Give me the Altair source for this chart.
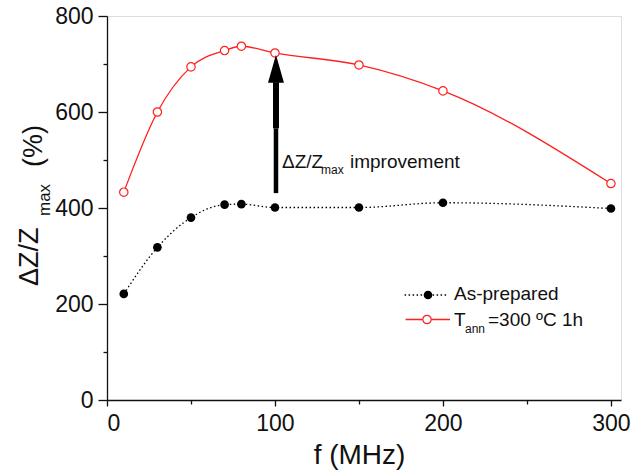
import altair as alt
import pandas as pd

# Frequency sweep (MHz) and maximum GMI ratio (%) for both samples
freq = [10, 30, 50, 70, 80, 100, 150, 200, 300]
as_prepared = [221, 318, 380, 407, 408, 401, 401, 411, 399]
annealed = [433, 600, 694, 728, 737, 723, 698, 644, 451]

x_major = [0, 100, 200, 300]
x_minor = [50, 150, 250]
y_major = [0, 200, 400, 600, 800]
y_minor = [100, 300, 500, 700]

# Improvement arrow at f = 100 MHz
arrow_x = [100.6]
arrow_base = [431]
arrow_neck = [566]
arrow_head_base = [662]
arrow_head_mid = [690]

FONT = "Liberation Sans"
RED = "#ff1f1f"

df_a = pd.DataFrame({"f": freq, "v": as_prepared})
df_b = pd.DataFrame({"f": freq, "v": annealed})

xs = alt.Scale(domain=[0, 306], nice=False, zero=False)
ys = alt.Scale(domain=[0, 800], nice=False, zero=False)

major_x_axis = alt.Axis(values=x_major, labelFontSize=23, labelFont=FONT, labelColor="#111",
                        tickSize=6, tickColor="#111", tickWidth=1.3, domainColor="#111",
                        domainWidth=1.3, labelPadding=6, grid=False, title="f (MHz)",
                        titleFont=FONT, titleFontSize=28, titleFontWeight="normal",
                        titleColor="#111", titlePadding=6, titleX=252, orient="bottom")
major_y_axis = alt.Axis(values=y_major, labelFontSize=23, labelFont=FONT, labelColor="#111",
                        tickSize=9, tickColor="#111", tickWidth=1.3, domainColor="#111",
                        domainWidth=1.3, labelPadding=5, grid=False, title="",
                        orient="left")
minor_x_axis = alt.Axis(values=x_minor, labels=False, domain=False, tickSize=4,
                        tickColor="#111", tickWidth=1.3, grid=False, title="", orient="bottom")
minor_y_axis = alt.Axis(values=y_minor, labels=False, domain=False, tickSize=4,
                        tickColor="#111", tickWidth=1.3, grid=False, title="", orient="left")

line_a = alt.Chart(df_a).mark_line(color="black", strokeWidth=1.3, strokeDash=[1.5, 2.5],
                                   interpolate="monotone").encode(
    x=alt.X("f:Q", scale=xs, axis=major_x_axis),
    y=alt.Y("v:Q", scale=ys, axis=major_y_axis),
)
pts_a = alt.Chart(df_a).mark_point(shape="circle", filled=True, color="black", size=75,
                                   opacity=1).encode(
    x=alt.X("f:Q", scale=xs, axis=None),
    y=alt.Y("v:Q", scale=ys, axis=None),
)
minor = alt.Chart(df_a).mark_point(opacity=0).encode(
    x=alt.X("f:Q", scale=xs, axis=minor_x_axis),
    y=alt.Y("v:Q", scale=ys, axis=minor_y_axis),
)
line_b = alt.Chart(df_b).mark_line(color=RED, strokeWidth=1.3, interpolate="monotone").encode(
    x=alt.X("f:Q", scale=xs, axis=None),
    y=alt.Y("v:Q", scale=ys, axis=None),
)
pts_b = alt.Chart(df_b).mark_point(shape="circle", filled=True, fill="white", stroke=RED,
                                   strokeWidth=1.2, size=70, opacity=1).encode(
    x=alt.X("f:Q", scale=xs, axis=None),
    y=alt.Y("v:Q", scale=ys, axis=None),
)

arrow_df = pd.DataFrame({"x": arrow_x, "y0": arrow_base, "y1": arrow_neck,
                         "y2": arrow_head_base, "ym": arrow_head_mid})
shaft = alt.Chart(arrow_df).mark_rule(color="black", strokeWidth=4.5).encode(
    x=alt.X("x:Q", scale=xs, axis=None),
    y=alt.Y("y0:Q", scale=ys, axis=None),
    y2="y1:Q",
)
neck = alt.Chart(arrow_df).mark_rule(color="black", strokeWidth=6).encode(
    x=alt.X("x:Q", scale=xs, axis=None),
    y=alt.Y("y1:Q", scale=ys, axis=None),
    y2="y2:Q",
)
head = alt.Chart(arrow_df).mark_point(shape="M0,-1L0.57,1L-0.57,1Z", filled=True,
                                      color="black", size=784, opacity=1).encode(
    x=alt.X("x:Q", scale=xs, axis=None),
    y=alt.Y("ym:Q", scale=ys, axis=None),
)


def label(txt, x, y, size, angle=0, color="#111"):
    return alt.Chart(pd.DataFrame({"t": [txt]})).mark_text(
        font=FONT, fontSize=size, align="left", baseline="alphabetic", angle=angle,
        color=color,
    ).encode(x=alt.value(x), y=alt.value(y), text="t:N")


# Annotation next to the arrow
ann = [
    label("\u0394Z/Z", 175, 152, 19),
    label("max", 214, 158, 12),
    label("improvement", 243, 152, 19),
]

# Rotated y-axis title with subscript
ytitle = [
    label("\u0394Z/Z", -69, 270, 27, angle=270),
    label("max", -57, 200, 17, angle=270),
    label("(%)", -65, 151, 27, angle=270),
]

# Legend
leg_df = pd.DataFrame({"k": [0]})
leg_line_a = alt.Chart(leg_df).mark_rule(color="black", strokeWidth=1.3,
                                         strokeDash=[1.5, 2.5]).encode(
    x=alt.value(297.6), x2=alt.value(341), y=alt.value(279))
leg_pt_a = alt.Chart(leg_df).mark_point(shape="circle", filled=True, color="black", size=75,
                                        opacity=1).encode(x=alt.value(321), y=alt.value(279))
leg_line_b = alt.Chart(leg_df).mark_rule(color=RED, strokeWidth=1.3).encode(
    x=alt.value(298.6), x2=alt.value(343), y=alt.value(303.5))
leg_pt_b = alt.Chart(leg_df).mark_point(shape="circle", filled=True, fill="white", stroke=RED,
                                        strokeWidth=1.2, size=70, opacity=1).encode(
    x=alt.value(320), y=alt.value(303.5))
legend = [
    leg_line_a, leg_pt_a, label("As-prepared", 347, 284, 19),
    leg_line_b, leg_pt_b, label("T", 347, 310, 19), label("ann", 358, 317, 12),
    label("=300 \u00baC 1h", 381, 310, 19),
]

chart = alt.layer(
    line_a, minor, pts_a, line_b, pts_b, shaft, neck, head, *ann, *ytitle, *legend
).resolve_axis(x="independent", y="independent").properties(
    width=514, height=384,
    padding={"left": 107, "top": 16, "right": 13, "bottom": 73},
    autosize=alt.AutoSizeParams(type="none"),
).configure_view(
    stroke="#444", strokeWidth=1.5,
).configure(background="white")

chart.save("out.html", embed_options={"renderer": "svg", "actions": False})
